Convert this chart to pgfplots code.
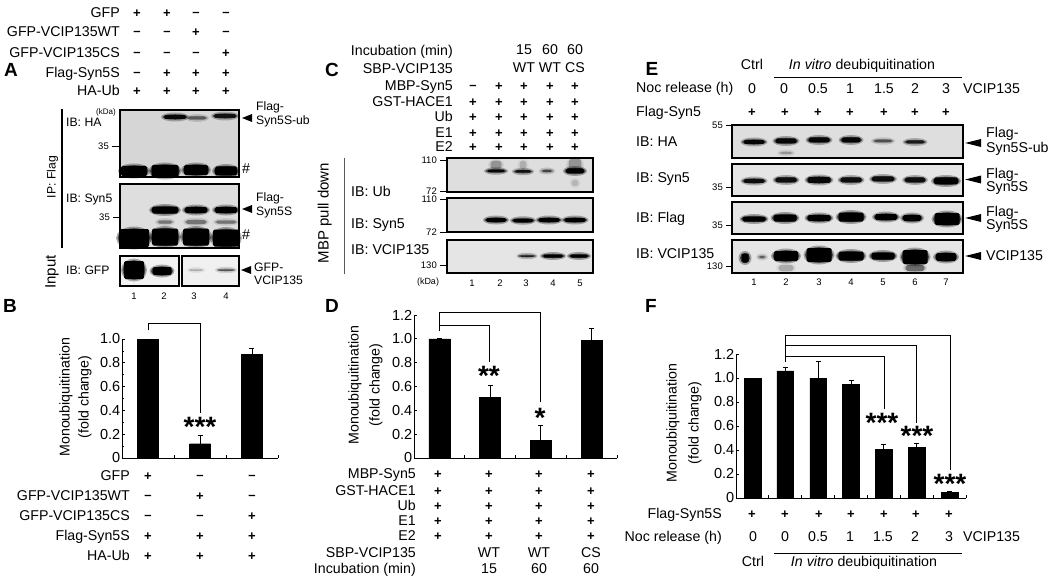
\documentclass[border=0pt]{standalone}
\usepackage{pgfplots}
\pgfplotsset{compat=1.18}
\usepackage{fontspec}
\setmainfont{Liberation Sans}
\usetikzlibrary{calc}
\newcommand{\fs}[1]{\fontsize{#1}{#1}\selectfont}
\tikzset{
 t/.style={inner sep=0pt,text height=.72em,text depth=0pt,font=\fs{14.2}},
 R/.style={t,anchor=east}, L/.style={t,anchor=west}, C/.style={t,anchor=center},
 a/.style={font=\fs{12.2}},
 small/.style={font=\fs{9.5}},
 blot/.style={draw=black,line width=1.1pt},
 br/.style={draw=black,line width=.9pt},
 stars/.style={C,font=\fs{28}\bfseries},
}
% panel letter
\newcommand{\letter}[3]{\node[C,font=\fs{19}\bfseries] at (#1,#2) {#3};}
% row of + and -
\newcommand{\signs}[2]{\foreach \x/\s in {#2}{\node[C,font=\fs{13}\bfseries] at (\x,#1) {\if\s p+\else\if\s m\raisebox{.12em}{--}\fi\fi};}}
\newcommand{\vals}[2]{\foreach \x/\s in {#2}{\node[C,font=\fs{14.2}] at (\x,#1) {\s};}}
% blot band: x y w h opacity
\newcommand{\band}[5]{%
 \pgfmathsetmacro\opa{#5*0.3}\pgfmathsetmacro\opb{#5*0.55}%
 \fill[black,opacity=\opa] (#1,#2) ellipse [x radius={#3/2+2},y radius={#4/2+2.5}];
 \fill[black,opacity=\opb] (#1,#2) ellipse [x radius={#3/2+.5},y radius={#4/2+.8}];
 \fill[black,opacity=#5,rounded corners=1.5pt] ({#1-#3/2+1},{#2-#4/2}) rectangle ({#1+#3/2-1},{#2+#4/2});
}
\newcommand{\arrowL}[3]{\fill[black] (#1,#2) -- ({#1+#3},{#2-4}) -- ({#1+#3},{#2+4}) -- cycle;}
\newcommand{\ktick}[4]{\draw[black,line width=.9pt] (#1,#2) -- (#3,#2); \node[R,font=\fs{9.5}] at ({#1-3},#2) {#4};}
\pgfplotsset{
 panel/.style={
  scale only axis, axis lines=left, axis line style={-,line width=.9pt},
  tick style={black,line width=.8pt}, tick align=inside, major tick length=3pt, minor tick length=2pt,
  xticklabels={}, ytick={0,0.2,0.4,0.6,0.8,1.0,1.2},
  yticklabels={0,0.2,0.4,0.6,0.8,1.0,1.2},
  y tick label style={font=\fs{14.5},inner sep=1.5pt},
  anchor=south west, ymin=0, clip=false,
 },
 barst/.style={ybar,fill=black,draw=black,bar width=#1,
   error bars/.cd,y dir=plus,y explicit,
   error bar style={black,line width=1pt},
   error mark options={black,rotate=90,mark size=2.5pt,line width=1pt}},
}
\begin{document}
\begin{tikzpicture}[x=1pt,y=-1pt]
\useasboundingbox (0,0) rectangle (1050,583);
%=========== A
\letter{11}{73}{A}
\node[R] at (120,14) {GFP}; \node[R] at (120,33) {GFP-VCIP135WT}; \node[R] at (120,54) {GFP-VCIP135CS};
\node[R] at (120,74) {Flag-Syn5S}; \node[R] at (120,92) {HA-Ub};
\signs{14}{137/p,167/p,196/m,226/m}
\signs{33}{137/m,167/m,196/p,226/m}
\signs{54}{137/m,167/m,196/m,226/p}
\signs{74}{137/m,167/p,196/p,226/p}
\signs{92}{137/p,167/p,196/p,226/p}
\fill[black!16] (120,110) rectangle (239,177);
\band{175}{117}{24}{4}{.9}\band{197}{118}{20}{3}{.4}\band{225}{116}{24}{4}{.8}
\band{134}{171}{28}{10}{1}\band{165}{171}{29}{12}{1}\band{196}{170}{26}{10}{1}\band{226}{171}{24}{9}{1}
\draw[blot] (120,110) rectangle (239,177);
\fill[black!13] (120,184) rectangle (239,248);
\band{165}{210}{28}{7}{1}\band{196}{210}{24}{6}{1}\band{226}{210}{24}{6}{1}
\band{165}{222}{16}{3}{.3}\band{196}{222}{22}{4}{.3}\band{226}{222}{22}{3}{.3}
\band{134}{238}{32}{18}{1}\band{165}{237}{28}{17}{1}\band{196}{237}{28}{17}{1}\band{226}{238}{28}{17}{1}
\draw[blot] (120,184) rectangle (239,248);
\fill[black!5] (120,256) rectangle (179,286);
\band{134}{270}{22}{18}{1}\band{162}{271}{21}{8}{1}
\draw[blot] (120,256) rectangle (179,286);
\fill[black!6] (182,256) rectangle (239,286);
\band{196}{270}{14}{1}{.2}\band{226}{270}{18}{1.5}{.45}
\draw[blot] (182,256) rectangle (239,286);
\draw[black,line width=1.2pt] (62,109) -- (62,248);
\node[C,a,rotate=90] at (52,177) {IP: Flag};
\node[C,rotate=90,font=\fs{15}] at (52,272) {Input};
\node[L,a] at (66,123) {IB: HA}; \node[L,a] at (66,199) {IB: Syn5}; \node[L,a] at (66,271) {IB: GFP};
\node[R,font=\fs{8}] at (116,111) {(kDa)};
\ktick{112}{146}{119}{35} \ktick{113}{217}{119}{35}
\node[L,a] at (256,107) {Flag-}; \node[L,a] at (256,121) {Syn5S-ub}; \arrowL{242}{118}{10}
\node[L] at (242,170) {\#};
\node[L,a] at (256,198) {Flag-}; \node[L,a] at (256,212) {Syn5S}; \arrowL{242}{209}{10}
\node[L] at (242,236) {\#};
\node[L,a] at (254,268) {GFP-}; \node[L,a] at (254,281) {VCIP135}; \arrowL{241}{270}{10}
\foreach \x/\n in {134/1,164/2,194/3,226/4}{\node[C,small] at (\x,296) {\n};}
%=========== B
\letter{10}{309}{B}
\begin{axis}[panel,at={(122pt,-458pt)},width=156pt,height=119pt,xmin=-0.5,xmax=2.5,ymax=1.0,
  xtick={0.5,1.5,2.5},minor y tick num=1]
\addplot[barst=21pt] table[x=x,y=y,y error=e] {
x y e
0 1.0 0
1 0.12 0.07
2 0.87 0.05
};
\end{axis}
\draw[br] (148,330) -- (148,323) -- (200,323) -- (200,413);
\node[stars] at (200,433) {***};
\node[C,rotate=90] at (66,397) {Monoubiquitination};
\node[C,rotate=90] at (85,397) {(fold change)};
\node[R] at (130,477) {GFP}; \node[R] at (130,497) {GFP-VCIP135WT}; \node[R] at (130,517) {GFP-VCIP135CS};
\node[R] at (130,537) {Flag-Syn5S}; \node[R] at (130,557) {HA-Ub};
\signs{477}{148/p,200/m,252/m}
\signs{497}{148/m,200/p,252/m}
\signs{517}{148/m,200/m,252/p}
\signs{537}{148/p,200/p,252/p}
\signs{557}{148/p,200/p,252/p}
%=========== C
\letter{332}{73}{C}
\node[R] at (453,52) {Incubation (min)}; \node[R] at (453,70) {SBP-VCIP135}; \node[R] at (453,87) {MBP-Syn5};
\node[R] at (453,103) {GST-HACE1}; \node[R] at (453,118) {Ub}; \node[R] at (453,134) {E1}; \node[R] at (453,148) {E2};
\vals{51}{524/15,550/60,575/60}
\vals{69}{524/WT,550/WT,575/CS}
\signs{87}{473/m,499/p,524/p,550/p,575/p}
\signs{103}{473/p,499/p,524/p,550/p,575/p}
\signs{118}{473/p,499/p,524/p,550/p,575/p}
\signs{134}{473/p,499/p,524/p,550/p,575/p}
\signs{148}{473/p,499/p,524/p,550/p,575/p}
\fill[black!13] (447,158) rectangle (593,192);
\band{496}{165}{12}{8}{.2}\band{523}{165}{8}{8}{.12}\band{575}{165}{14}{12}{.2}\band{575}{183}{8}{6}{.1}
\band{496}{171}{20}{2.5}{.9}\band{523}{171.5}{18}{2.5}{.8}\band{547}{171}{12}{2}{.5}\band{575}{171}{20}{5}{1}
\draw[blot] (447,158) rectangle (593,192);
\fill[black!12] (447,198) rectangle (593,232);
\band{496}{220}{22}{4}{1}\band{523}{220.5}{22}{3.5}{1}\band{549}{220}{23}{4}{1}\band{575}{220}{23}{4}{1}
\draw[blot] (447,198) rectangle (593,232);
\fill[black!10] (447,240) rectangle (593,273);
\band{527}{256}{17}{1.5}{.7}\band{553}{256}{22}{3}{1}\band{579}{256}{20}{3}{1}
\draw[blot] (447,240) rectangle (593,273);
\draw[black!65,line width=1pt] (344,158) -- (344,274);
\node[C,rotate=90,font=\fs{15}] at (325,213) {MBP pull down};
\node[L] at (351,193) {IB: Ub}; \node[L] at (351,225) {IB: Syn5}; \node[L] at (351,251) {IB: VCIP135};
\ktick{440}{160}{447}{110} \ktick{440}{191}{447}{72} \ktick{440}{199}{447}{110} \ktick{440}{232}{447}{72} \ktick{440}{265}{447}{130}
\node[C,font=\fs{9}] at (428,281) {(kDa)};
\foreach \x/\n in {472/1,500/2,526/3,553/4,580/5}{\node[C,small] at (\x,283) {\n};}
%=========== D
\letter{332}{309}{D}
\begin{axis}[panel,at={(414pt,-458pt)},width=203pt,height=143pt,xmin=-0.5,xmax=3.5,ymax=1.2,
  xtick={0.5,1.5,2.5,3.5}]
\addplot[barst=21pt] table[x=x,y=y,y error=e] {
x y e
0 1.0 0
1 0.51 0.10
2 0.15 0.12
3 0.99 0.10
};
\end{axis}
\draw[br] (439,331) -- (439,325) -- (489,325) -- (489,362);
\draw[br] (439,325) -- (439,312) -- (540,312) -- (540,402);
\node[stars] at (489,382) {**};
\node[stars] at (540,424) {*};
\node[C,rotate=90] at (355,385) {Monoubiquitination};
\node[C,rotate=90] at (376,385) {(fold change)};
\node[R] at (416,475) {MBP-Syn5}; \node[R] at (416,492) {GST-HACE1}; \node[R] at (416,507) {Ub}; \node[R] at (416,522) {E1}; \node[R] at (416,537) {E2};
\node[R] at (416,554) {SBP-VCIP135}; \node[R] at (416,570) {Incubation (min)};
\foreach \y in {475,492,507,522,537}{\signs{\y}{438/p,489/p,539/p,591/p}}
\vals{554}{489/WT,539/WT,591/CS}
\vals{570}{489/15,539/60,591/60}
%=========== E
\letter{652}{72}{E}
\node[C] at (752,66) {Ctrl}; \node[C] at (862,66) {\textit{In vitro} deubiquitination};
\draw[black,line width=.8pt] (774,77) -- (962,77);
\node[L] at (636,89) {Noc release (h)};
\vals{90}{752/0,784/0,818/0.5,850/1,884/1.5,915/2,946/3}
\node[L] at (963,90) {VCIP135};
\node[L] at (636,113) {Flag-Syn5};
\signs{113}{752/p,785/p,818/p,850/p,884/p,915/p,946/p}
\fill[black!13] (732,125) rectangle (963,158);
\band{754}{142}{23}{4}{.9}\band{786}{141}{23}{5}{.9}\band{819}{140}{23}{5}{.9}\band{851}{140}{21}{5}{.9}\band{883}{141}{20}{2.5}{.45}\band{915}{142}{21}{3}{.75}\band{786}{153}{14}{2}{.2}
\draw[blot] (732,125) rectangle (963,158);
\fill[black!10] (732,164) rectangle (963,196);
\band{754}{181}{23}{4}{.85}\band{786}{180}{23}{5}{.85}\band{819}{180}{25}{6}{.9}\band{851}{180}{23}{5}{.85}\band{883}{179}{24}{5}{.85}\band{915}{180}{22}{5}{.85}\band{946}{181}{26}{7}{.95}
\draw[blot] (732,164) rectangle (963,196);
\fill[black!10] (732,202) rectangle (963,234);
\band{754}{219}{25}{5}{1}\band{785}{218}{25}{7}{1}\band{819}{218}{25}{6}{1}\band{851}{217}{27}{9}{1}\band{886}{217}{24}{6}{1}\band{912}{218}{20}{6}{1}\band{947}{219}{27}{12}{1}
\draw[blot] (732,202) rectangle (963,234);
\fill[black!10] (732,240) rectangle (963,273);
\band{745}{258}{9}{9}{1}\band{762}{257}{8}{2}{.4}\band{786}{256}{26}{10}{1}\band{819}{255}{27}{14}{1}\band{851}{256}{27}{9}{1}\band{883}{256}{25}{7}{1}\band{915}{257}{27}{14}{1}\band{946}{257}{22}{8}{1}
\band{915}{268}{20}{6}{.35}\band{786}{268}{16}{6}{.15}
\draw[blot] (732,240) rectangle (963,273);
\node[L] at (636,143) {IB: HA}; \node[L] at (636,179) {IB: Syn5}; \node[L] at (636,219) {IB: Flag}; \node[L] at (636,255) {IB: VCIP135};
\ktick{726}{125}{732}{55} \ktick{726}{187}{732}{35} \ktick{726}{225}{732}{35} \ktick{726}{266}{732}{130}
\arrowL{965}{143}{16}\arrowL{965}{179.5}{16}\arrowL{965}{218}{16}\arrowL{965}{256}{16}
\node[L] at (986,134) {Flag-}; \node[L] at (986,149) {Syn5S-ub};
\node[L] at (986,175) {Flag-}; \node[L] at (986,188) {Syn5S};
\node[L] at (986,213) {Flag-}; \node[L] at (986,226) {Syn5S};
\node[L] at (986,257) {VCIP135};
\foreach \x/\n in {754/1,786/2,819/3,851/4,883/5,915/6,946/7}{\node[C,small] at (\x,282) {\n};}
%=========== F
\letter{651}{309}{F}
\begin{axis}[panel,at={(736pt,-498pt)},width=230pt,height=144pt,xmin=-0.5,xmax=6.5,ymax=1.2,
  xtick={0.5,1.5,2.5,3.5,4.5,5.5,6.5}]
\addplot[barst=16.7pt] table[x=x,y=y,y error=e] {
x y e
0 1.0 0
1 1.06 0.03
2 1.0 0.14
3 0.95 0.03
4 0.405 0.045
5 0.42 0.035
6 0.05 0.005
};
\end{axis}
\draw[br] (785,362) -- (785,335) -- (950,335) -- (950,470);
\draw[br] (785,345) -- (916,345) -- (916,423);
\draw[br] (785,356) -- (884,356) -- (884,409);
\node[stars] at (882,429) {***};
\node[stars] at (917,442) {***};
\node[stars] at (950,490) {***};
\node[C,rotate=90] at (673,423) {Monoubiquitination};
\node[C,rotate=90] at (695,423) {(fold change)};
\node[R] at (722,515) {Flag-Syn5S};
\signs{515}{752/p,785/p,819/p,851/p,884/p,916/p,949/p}
\node[R] at (722,538) {Noc release (h)};
\vals{538}{753/0,785/0,818/0.5,850/1,883/1.5,915/2,949/3}
\node[L] at (963,538) {VCIP135};
\draw[black,line width=.8pt] (774,553) -- (962,553);
\node[C] at (753,563) {Ctrl}; \node[C] at (864,563) {\textit{In vitro} deubiquitination};
\end{tikzpicture}
\end{document}
